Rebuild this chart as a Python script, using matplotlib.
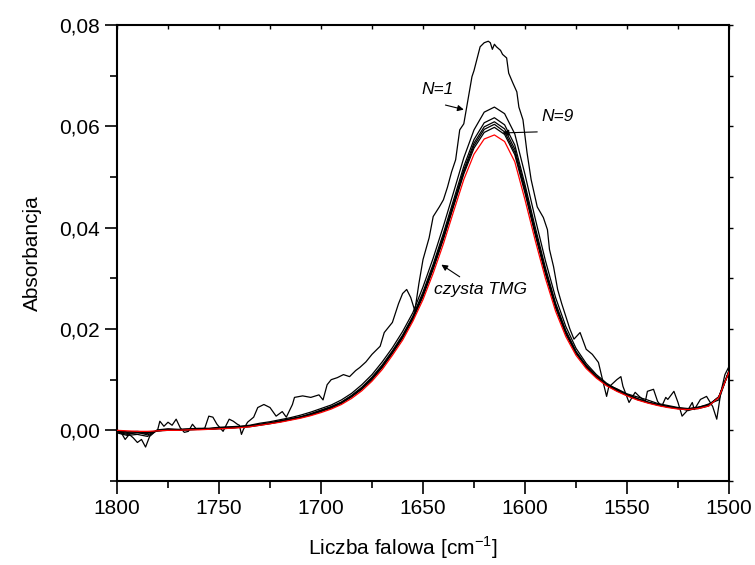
import matplotlib
matplotlib.use("Agg")
import matplotlib.pyplot as plt
from matplotlib.ticker import MultipleLocator, FuncFormatter

plt.rcParams['font.family'] = ['Liberation Sans', 'DejaVu Sans']
plt.rcParams['mathtext.fontset'] = 'custom'
plt.rcParams['mathtext.rm'] = 'Liberation Sans'

# common wavenumber grid (cm^-1) for the smooth spectra
wn = [1800, 1795, 1790, 1785, 1780, 1775, 1770, 1765, 1760, 1755,
      1750, 1745, 1740, 1735, 1730, 1725, 1720, 1715, 1710, 1705,
      1700, 1695, 1690, 1685, 1680, 1675, 1670, 1665, 1660, 1655,
      1650, 1645, 1640, 1635, 1630, 1625, 1620, 1615, 1610, 1605,
      1600, 1595, 1590, 1585, 1580, 1575, 1570, 1565, 1560, 1555,
      1550, 1545, 1540, 1535, 1530, 1525, 1520, 1515, 1510, 1505, 1500]

tmg_pure = [0.0000, -0.0001, -0.0002, -0.0002, -0.0001, 0.0000, 0.0000, 0.0001, 0.0001, 0.0002,
            0.0003, 0.0004, 0.0005, 0.0007, 0.0010, 0.0013, 0.0016, 0.0020, 0.0024, 0.0029,
            0.0035, 0.0042, 0.0051, 0.0063, 0.0078, 0.0097, 0.0120, 0.0148, 0.0178, 0.0215,
            0.0258, 0.0310, 0.0368, 0.0432, 0.0495, 0.0545, 0.0575, 0.0583, 0.0570, 0.0530,
            0.0455, 0.0375, 0.0300, 0.0235, 0.0185, 0.0148, 0.0122, 0.0103, 0.0088, 0.0077,
            0.0068, 0.0060, 0.0054, 0.0049, 0.0045, 0.0042, 0.0041, 0.0043, 0.0048, 0.0065, 0.0115]

n2 = [-0.0005, -0.0010, -0.0008, -0.0012, 0.0001, 0.0003, 0.0002, 0.0003, 0.0004, 0.0004,
      0.0006, 0.0007, 0.0008, 0.0010, 0.0014, 0.0017, 0.0021, 0.0025, 0.0030, 0.0036,
      0.0043, 0.0050, 0.0060, 0.0073, 0.0090, 0.0110, 0.0135, 0.0163, 0.0195, 0.0232,
      0.0283, 0.0340, 0.0403, 0.0470, 0.0538, 0.0593, 0.0628, 0.0638, 0.0625, 0.0585,
      0.0505, 0.0418, 0.0335, 0.0262, 0.0205, 0.0162, 0.0132, 0.0110, 0.0093, 0.0081,
      0.0071, 0.0063, 0.0056, 0.0051, 0.0047, 0.0044, 0.0042, 0.0045, 0.0050, 0.0066, 0.0117]

n3 = [-0.0003, -0.0008, -0.0004, -0.0009, 0.0000, 0.0002, 0.0001, 0.0002, 0.0003, 0.0003,
      0.0005, 0.0006, 0.0007, 0.0009, 0.0012, 0.0015, 0.0019, 0.0023, 0.0027, 0.0033,
      0.0040, 0.0047, 0.0056, 0.0069, 0.0085, 0.0105, 0.0129, 0.0157, 0.0188, 0.0225,
      0.0273, 0.0328, 0.0389, 0.0455, 0.0521, 0.0574, 0.0607, 0.0617, 0.0603, 0.0563,
      0.0485, 0.0401, 0.0321, 0.0251, 0.0197, 0.0156, 0.0128, 0.0107, 0.0091, 0.0080,
      0.0070, 0.0062, 0.0056, 0.0051, 0.0047, 0.0044, 0.0039, 0.0045, 0.0052, 0.0060, 0.0118]

n5 = [-0.0002, -0.0006, -0.0005, -0.0006, -0.0001, 0.0001, 0.0001, 0.0002, 0.0002, 0.0003,
      0.0004, 0.0005, 0.0006, 0.0008, 0.0011, 0.0014, 0.0018, 0.0022, 0.0026, 0.0032,
      0.0039, 0.0046, 0.0055, 0.0068, 0.0083, 0.0103, 0.0127, 0.0155, 0.0186, 0.0223,
      0.0269, 0.0324, 0.0384, 0.0449, 0.0514, 0.0567, 0.0599, 0.0609, 0.0595, 0.0555,
      0.0478, 0.0394, 0.0316, 0.0247, 0.0194, 0.0154, 0.0127, 0.0106, 0.0090, 0.0082,
      0.0072, 0.0066, 0.0060, 0.0053, 0.0049, 0.0045, 0.0043, 0.0046, 0.0050, 0.0066, 0.0116]

n7 = [-0.0001, -0.0004, -0.0003, -0.0005, -0.0001, 0.0001, 0.0000, 0.0001, 0.0002, 0.0002,
      0.0004, 0.0005, 0.0006, 0.0008, 0.0011, 0.0014, 0.0017, 0.0021, 0.0026, 0.0031,
      0.0038, 0.0045, 0.0054, 0.0067, 0.0082, 0.0102, 0.0125, 0.0153, 0.0184, 0.0221,
      0.0267, 0.0321, 0.0380, 0.0445, 0.0510, 0.0562, 0.0594, 0.0604, 0.0589, 0.0549,
      0.0473, 0.0390, 0.0312, 0.0244, 0.0192, 0.0153, 0.0126, 0.0105, 0.0090, 0.0079,
      0.0069, 0.0061, 0.0055, 0.0050, 0.0046, 0.0043, 0.0042, 0.0044, 0.0049, 0.0066, 0.0116]

n9 = [0.0000, -0.0003, -0.0002, -0.0004, -0.0001, 0.0000, 0.0000, 0.0001, 0.0002, 0.0002,
      0.0003, 0.0004, 0.0006, 0.0007, 0.0010, 0.0013, 0.0017, 0.0021, 0.0025, 0.0030,
      0.0037, 0.0044, 0.0053, 0.0066, 0.0081, 0.0100, 0.0124, 0.0152, 0.0182, 0.0219,
      0.0264, 0.0318, 0.0377, 0.0442, 0.0506, 0.0557, 0.0588, 0.0598, 0.0584, 0.0544,
      0.0468, 0.0386, 0.0309, 0.0242, 0.0190, 0.0152, 0.0125, 0.0105, 0.0089, 0.0078,
      0.0069, 0.0061, 0.0055, 0.0050, 0.0046, 0.0043, 0.0041, 0.0043, 0.0048, 0.0065, 0.0115]

# first cycle (N=1), noisy spectrum, read point by point
n1_wn = [1800, 1798, 1796, 1794, 1792, 1790, 1788, 1786, 1784, 1782, 1780, 1779, 1777, 1775,
         1773, 1771, 1769, 1767, 1765, 1763, 1761, 1759, 1757, 1755, 1753, 1751, 1748, 1745,
         1743, 1741, 1740, 1739, 1738, 1736, 1733, 1731, 1728, 1725, 1722, 1719, 1717, 1714,
         1713, 1709, 1705, 1701, 1699, 1697, 1695, 1692, 1689, 1686, 1683, 1681, 1678, 1675,
         1671, 1669, 1665, 1662, 1660, 1658, 1656, 1654, 1652, 1650, 1647, 1645, 1642, 1640,
         1638, 1636, 1634, 1632, 1630, 1628, 1626, 1625, 1622, 1620, 1618, 1617, 1616, 1615,
         1614, 1612, 1611, 1609, 1608, 1606, 1604, 1603, 1601, 1599, 1597, 1594, 1591, 1589,
         1588, 1586, 1584, 1582, 1580, 1578, 1576, 1573, 1570, 1567, 1564, 1562, 1560, 1559,
         1555, 1553, 1552, 1549, 1546, 1544, 1541, 1540, 1537, 1535, 1533, 1531, 1530, 1527,
         1525, 1523, 1520, 1518, 1517, 1514, 1511, 1508, 1506, 1504, 1502, 1500]
n1_abs = [0.0000, -0.0004, -0.0018, -0.0008, -0.0015, -0.0024, -0.0018, -0.0033, -0.0012, -0.0005,
          0.0002, 0.0018, 0.0008, 0.0016, 0.0010, 0.0022, 0.0005, -0.0004, -0.0002, 0.0012,
          0.0002, 0.0003, 0.0004, 0.0028, 0.0026, 0.0012, -0.0002, 0.0022, 0.0018, 0.0012,
          0.0010, -0.0008, 0.0002, 0.0016, 0.0026, 0.0045, 0.0051, 0.0045, 0.0028, 0.0037,
          0.0026, 0.0051, 0.0065, 0.0068, 0.0065, 0.0070, 0.0060, 0.0090, 0.0100, 0.0104,
          0.0110, 0.0106, 0.0118, 0.0124, 0.0135, 0.0150, 0.0166, 0.0193, 0.0213, 0.0250,
          0.0270, 0.0278, 0.0262, 0.0236, 0.0290, 0.0337, 0.0380, 0.0422, 0.0441, 0.0455,
          0.0480, 0.0510, 0.0534, 0.0593, 0.0605, 0.0652, 0.0698, 0.0710, 0.0757, 0.0765,
          0.0768, 0.0765, 0.0752, 0.0762, 0.0757, 0.0750, 0.0742, 0.0735, 0.0705, 0.0686,
          0.0668, 0.0638, 0.0613, 0.0548, 0.0495, 0.0441, 0.0420, 0.0396, 0.0357, 0.0323,
          0.0278, 0.0250, 0.0225, 0.0200, 0.0180, 0.0193, 0.0160, 0.0150, 0.0134, 0.0100,
          0.0067, 0.0085, 0.0100, 0.0106, 0.0087, 0.0055, 0.0075, 0.0067, 0.0057, 0.0077,
          0.0081, 0.0057, 0.0047, 0.0065, 0.0061, 0.0077, 0.0055, 0.0028, 0.0041, 0.0055,
          0.0041, 0.0061, 0.0067, 0.0047, 0.0022, 0.0075, 0.0110, 0.0126]

y_ticks = [0.00, 0.02, 0.04, 0.06, 0.08]
x_ticks = [1800, 1750, 1700, 1650, 1600, 1550, 1500]

fig = plt.figure(figsize=(7.55, 5.65), dpi=100)
ax = fig.add_axes([117/755, 1-481/565, 612/755, 456/565])

lw = 0.9
for series in (n2, n3, n5, n7, n9):
    ax.plot(wn, series, color='black', lw=lw, zorder=2)
ax.plot(n1_wn, n1_abs, color='black', lw=lw, zorder=2)
ax.plot(wn, tmg_pure, color='#ff0000', lw=lw, zorder=3)

ax.set_xlim(1800, 1500)
ax.set_ylim(-0.01, 0.08)
ax.set_xticks(x_ticks)
ax.set_yticks(y_ticks)
ax.xaxis.set_minor_locator(MultipleLocator(25))
ax.yaxis.set_minor_locator(MultipleLocator(0.01))
ax.yaxis.set_major_formatter(FuncFormatter(lambda v, p: f"{v:.2f}".replace('.', ',')))
ax.xaxis.set_major_formatter(FuncFormatter(lambda v, p: f"{v:.0f}"))

ax.tick_params(axis='both', which='major', direction='out', length=9, width=1.2,
               labelsize=15)
ax.tick_params(axis='x', which='major', pad=4)
ax.tick_params(axis='y', which='major', pad=3.5)
ax.tick_params(axis='both', which='minor', direction='out', length=5, width=1.2)
for s in ax.spines.values():
    s.set_linewidth(1.5)

# top/right short ticks, as in the original
secx = ax.secondary_xaxis('top')
secx.set_xticks(x_ticks)
secx.xaxis.set_minor_locator(MultipleLocator(25))
secx.tick_params(which='both', direction='in', length=3, labeltop=False, width=1.0)
secx.spines['top'].set_visible(False)
secy = ax.secondary_yaxis('right')
secy.set_yticks(y_ticks)
secy.yaxis.set_minor_locator(MultipleLocator(0.01))
secy.tick_params(which='both', direction='out', length=3, labelright=False, width=1.0)
secy.spines['right'].set_visible(False)

fig.text(403/755, 1-548/565, "Liczba falowa [cm$^{\\mathregular{-1}}$]", fontsize=15,
         ha='center', va='center')
ax.set_ylabel("Absorbancja", fontsize=15, labelpad=12)

arrow = dict(arrowstyle='-|>', color='black', lw=0.8, mutation_scale=9, shrinkA=0, shrinkB=0)
ax.text(1643, 0.0672, "N=1", fontsize=12.5, style='italic', ha='center', va='center')
ax.annotate("", xy=(1630, 0.0633), xytext=(1639, 0.0642), arrowprops=arrow)
ax.text(1584, 0.0619, "N=9", fontsize=12.5, style='italic', ha='center', va='center')
ax.annotate("", xy=(1611, 0.0587), xytext=(1594, 0.0589), arrowprops=arrow)
ax.text(1622, 0.0278, "czysta TMG", fontsize=12.5, style='italic', ha='center', va='center')
ax.annotate("", xy=(1641, 0.0327), xytext=(1632, 0.0303), arrowprops=arrow)

fig.savefig("out.png", dpi=100)
